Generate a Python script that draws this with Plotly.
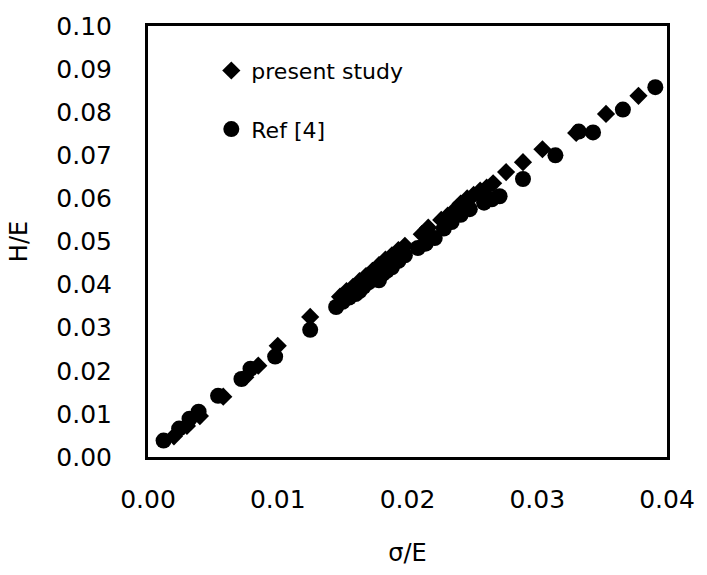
import plotly.graph_objects as go

# present study (diamonds)
present_x = [0.0020, 0.0030, 0.0040, 0.0058, 0.0075, 0.0085, 0.0100, 0.0125, 0.0148,
             0.0153, 0.0158, 0.0163, 0.0168, 0.0173, 0.0178, 0.0183, 0.0188, 0.0193,
             0.0198, 0.0211, 0.0216, 0.0226, 0.0231, 0.0236, 0.0241, 0.0246, 0.0251,
             0.0256, 0.0261, 0.0266, 0.0276, 0.0289, 0.0304, 0.0330, 0.0353, 0.0378]
present_y = [0.0048, 0.0072, 0.0095, 0.0140, 0.0185, 0.0212, 0.0258, 0.0325, 0.0372,
             0.0385, 0.0395, 0.0408, 0.0420, 0.0432, 0.0445, 0.0458, 0.0468, 0.0480,
             0.0490, 0.0517, 0.0532, 0.0550, 0.0560, 0.0572, 0.0588, 0.0600, 0.0608,
             0.0618, 0.0625, 0.0635, 0.0661, 0.0684, 0.0714, 0.0752, 0.0796, 0.0838]

# Ref [4] (circles)
ref_x = [0.0012, 0.0024, 0.0032, 0.0039, 0.0054, 0.0072, 0.0079, 0.0098, 0.0125,
         0.0145, 0.0150, 0.0155, 0.0160, 0.0163, 0.0166, 0.0170, 0.0175, 0.0178,
         0.0181, 0.0184, 0.0188, 0.0193, 0.0198, 0.0208, 0.0214, 0.0221, 0.0228,
         0.0234, 0.0241, 0.0248, 0.0259, 0.0265, 0.0271, 0.0289, 0.0314, 0.0332,
         0.0343, 0.0366, 0.0391]
ref_y = [0.0038, 0.0066, 0.0089, 0.0105, 0.0142, 0.0181, 0.0205, 0.0233, 0.0295,
         0.0348, 0.0360, 0.0370, 0.0378, 0.0385, 0.0395, 0.0405, 0.0417, 0.0410,
         0.0425, 0.0432, 0.0440, 0.0455, 0.0468, 0.0485, 0.0495, 0.0508, 0.0530,
         0.0545, 0.0562, 0.0575, 0.0590, 0.0598, 0.0605, 0.0645, 0.0700, 0.0755,
         0.0753, 0.0806, 0.0858]

x_ticks = [0.00, 0.01, 0.02, 0.03, 0.04]
y_ticks = [0.00, 0.01, 0.02, 0.03, 0.04, 0.05, 0.06, 0.07, 0.08, 0.09, 0.10]

FONT = "DejaVu Sans, Liberation Sans, sans-serif"

fig = go.Figure()
fig.add_trace(go.Scatter(x=present_x, y=present_y, mode="markers", name="present study",
                         legendgroup="a",
                         marker=dict(symbol="diamond", size=14, color="black")))
fig.add_trace(go.Scatter(x=ref_x, y=ref_y, mode="markers", name="Ref [4]",
                         legendgroup="b",
                         marker=dict(symbol="circle", size=16, color="black")))

fig.update_layout(
    width=707, height=575,
    margin=dict(l=148, r=30, t=22, b=116),
    paper_bgcolor="white", plot_bgcolor="white",
    font=dict(family=FONT, size=25, color="black"),
    showlegend=True,
    legend=dict(x=0.122, y=0.945, xanchor="left", yanchor="top",
                bgcolor="rgba(0,0,0,0)", font=dict(size=22),
                tracegroupgap=27, itemwidth=30),
    xaxis=dict(range=[0, 0.04], tickvals=x_ticks,
               ticktext=[f"{v:.2f}" for v in x_ticks],
               showgrid=False, zeroline=False, showline=True, linecolor="black",
               linewidth=3, mirror=True, ticks="", ticklabelstandoff=18,
               title=dict(text="σ/E", standoff=32, font=dict(size=24))),
    yaxis=dict(range=[0, 0.10], tickvals=y_ticks,
               ticktext=[f"{v:.2f}" for v in y_ticks],
               showgrid=False, zeroline=False, showline=True, linecolor="black",
               linewidth=3, mirror=True, ticks="", ticklabelstandoff=28,
               title=dict(text="H/E", standoff=22, font=dict(size=24))),
)

fig.write_html("out.html")
